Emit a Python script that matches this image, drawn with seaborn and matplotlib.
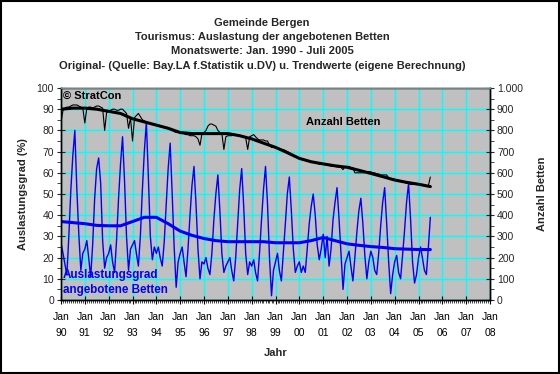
import pandas as pd
import matplotlib
matplotlib.use("Agg")
import matplotlib.pyplot as plt
import matplotlib.dates as mdates
from matplotlib.patches import Rectangle
from matplotlib.ticker import MultipleLocator, FuncFormatter
import seaborn as sns

# Monatswerte Jan. 1990 - Juli 2005
auslastung = [
    27, 22, 17, 12, 30, 52, 68, 80, 52, 31, 14, 22,   # 1990
    24, 28, 20, 11, 26, 48, 62, 67, 55, 28, 15, 20,   # 1991
    22, 26, 18, 13, 28, 48, 64, 77, 56, 30, 14, 24,   # 1992
    26, 28, 22, 16, 30, 52, 70, 84, 58, 30, 19, 25,   # 1993
    22, 25, 20, 16, 27, 45, 62, 74, 50, 25, 6, 18,    # 1994
    22, 25, 18, 11, 24, 40, 54, 63, 45, 24, 10, 18,   # 1995
    17, 20, 15, 12, 22, 38, 50, 59, 42, 22, 13, 16,   # 1996
    18, 20, 14, 9, 20, 36, 52, 62, 44, 22, 12, 18,    # 1997
    16, 19, 13, 9, 22, 38, 52, 63, 45, 20, 2, 14,     # 1998
    18, 22, 14, 9, 22, 36, 50, 58, 42, 24, 13, 16,    # 1999
    18, 13, 16, 13, 24, 36, 44, 50, 40, 26, 19, 24,   # 2000
    31, 20, 30, 16, 24, 38, 46, 53, 38, 22, 5, 17,    # 2001
    20, 23, 16, 9, 20, 32, 42, 48, 36, 21, 10, 18,    # 2002
    23, 20, 14, 12, 22, 35, 46, 53, 36, 18, 3, 12,    # 2003
    18, 21, 13, 10, 21, 33, 46, 55, 38, 18, 8, 12,    # 2004
    20, 25, 20, 14, 12, 25, 39,                       # 2005
]

betten = [
    840, 895, 905, 910, 910, 915, 920, 920, 920, 915, 910, 905,
    835, 905, 910, 910, 905, 910, 915, 915, 910, 905, 800, 885,
    890, 895, 900, 900, 895, 895, 900, 900, 890, 880, 810, 860,
    750, 860, 870, 880, 865, 850, 845, 840, 835, 830, 830, 825,
    825, 820, 820, 815, 815, 810, 810, 805, 800, 795, 790, 790,
    790, 785, 785, 780, 780, 775, 775, 775, 770, 760, 730, 785,
    790, 800, 820, 830, 830, 825, 820, 800, 790, 785, 710, 770,
    775, 775, 775, 780, 780, 775, 775, 770, 770, 765, 710, 770,
    775, 780, 770, 760, 755, 755, 755, 750, 750, 730, 720, 720,
    720, 715, 715, 710, 710, 705, 700, 695, 690, 685, 680, 675,
    670, 665, 660, 660, 655, 655, 650, 650, 645, 645, 640, 640,
    640, 638, 636, 634, 632, 630, 630, 628, 626, 625, 615, 630,
    630, 630, 625, 625, 600, 600, 600, 600, 600, 600, 605, 605,
    605, 600, 600, 595, 595, 590, 590, 590, 590, 575, 570, 570,
    570, 565, 565, 560, 555, 555, 550, 550, 545, 545, 545, 545,
    545, 545, 545, 540, 540, 540, 580,
]

# Trendwerte, jeweils Januar und Juli
trend_auslastung = [37, 36.5, 36, 35.2, 35, 35, 37, 39, 39, 36, 32.5, 30.5,
                    29, 28, 27.5, 27.5, 27.5, 27.5, 27, 27, 27, 28, 29.5, 28,
                    26.5, 25.8, 25.2, 24.8, 24.2, 24, 23.8, 23.8]
trend_betten = [900, 905, 905, 900, 890, 880, 855, 840, 825, 810, 790, 785,
                785, 785, 785, 775, 760, 740, 720, 695, 668, 652, 642, 633,
                626, 612, 597, 582, 566, 555, 546, 535]

titel = ["Gemeinde Bergen",
         "Tourismus: Auslastung der angebotenen Betten",
         "Monatswerte: Jan. 1990 - Juli 2005",
         "Original- (Quelle: Bay.LA f.Statistik u.DV) u. Trendwerte (eigene Berechnung)"]

monate = pd.date_range("1990-01-01", periods=len(auslastung), freq="MS")
df = pd.DataFrame({"Monat": monate, "Auslastung": auslastung, "Betten": betten})
trend_monate = pd.date_range("1990-01-01", periods=len(trend_auslastung), freq="6MS")
df_trend = pd.DataFrame({"Monat": trend_monate, "Auslastung": trend_auslastung,
                         "Betten": trend_betten})

sns.set_theme(style="white")
plt.rcParams["font.family"] = ["Liberation Sans", "DejaVu Sans"]

fig = plt.figure(figsize=(5.6, 3.74), dpi=100)
fig.patch.set_facecolor("white")
fig.patches.append(Rectangle((0.001, 0.002), 0.997, 0.996, transform=fig.transFigure,
                             fill=False, edgecolor="black", linewidth=1.5))

ax = fig.add_axes([61 / 560, 1 - 300 / 374, 429 / 560, 212 / 374])
ax.set_facecolor("#C0C0C0")
ax2 = ax.twinx()

sns.lineplot(data=df, x="Monat", y="Auslastung", ax=ax, color="#0000FF", linewidth=1)
sns.lineplot(data=df_trend, x="Monat", y="Auslastung", ax=ax, color="#0000FF", linewidth=2.2)
sns.lineplot(data=df, x="Monat", y="Betten", ax=ax2, color="black", linewidth=0.8)
sns.lineplot(data=df_trend, x="Monat", y="Betten", ax=ax2, color="black", linewidth=2.2)

ax.set_xlim(pd.Timestamp("1990-01-01"), pd.Timestamp("2008-01-01"))
ax.set_ylim(0, 100)
ax2.set_ylim(0, 1000)

ax.xaxis.set_major_locator(mdates.YearLocator())
ax.xaxis.set_major_formatter(mdates.DateFormatter("Jan\n%y"))
ax.xaxis.set_minor_locator(mdates.MonthLocator())
ax.yaxis.set_major_locator(MultipleLocator(10))
ax.yaxis.set_minor_locator(MultipleLocator(5))
ax2.yaxis.set_major_locator(MultipleLocator(100))
ax2.yaxis.set_minor_locator(MultipleLocator(50))
ax2.yaxis.set_major_formatter(FuncFormatter(lambda v, p: f"{int(v):,}".replace(",", ".")))

ax.grid(True, which="major", color="#00FFFF", linewidth=1)
ax.set_axisbelow(True)

ax.tick_params(axis="x", which="major", direction="inout", length=6, width=0.8,
               labelsize=7.5, colors="black", pad=6, bottom=True)
ax.tick_params(axis="x", which="minor", direction="out", length=2, width=0.6, bottom=True)
ax.tick_params(axis="y", which="major", direction="inout", length=6, width=0.8,
               labelsize=7.5, left=True, pad=2)
ax.tick_params(axis="y", which="minor", direction="out", length=3, width=0.6, left=True)
ax2.tick_params(axis="y", which="major", direction="inout", length=6, width=0.8,
                labelsize=7.5, right=True, pad=2)
ax2.tick_params(axis="y", which="minor", direction="out", length=3, width=0.6, right=True)
for lbl in ax.get_xticklabels():
    lbl.set_linespacing(1.75)

for a in (ax, ax2):
    for s in a.spines.values():
        s.set_color("black")
        s.set_linewidth(1)
ax2.spines["top"].set_color("#808080")

ax.set_xlabel("Jahr", fontsize=8, fontweight="bold", labelpad=7)
ax.set_ylabel("Auslastungsgrad (%)", fontsize=8, fontweight="bold", labelpad=6)
ax2.set_ylabel("Anzahl Betten", fontsize=8, fontweight="bold", labelpad=10)

ax.text(pd.Timestamp("1990-02-01"), 96.3, "© StratCon", fontsize=8, fontweight="bold",
        va="center", ha="left", color="black")
ax.text(pd.Timestamp("2001-11-01"), 84, "Anzahl Betten", fontsize=8, fontweight="bold",
        va="center", ha="center", color="black")
ax.text(pd.Timestamp("1990-02-01"), 8.2, "Auslastungsgrad\nangebotene Betten", fontsize=8.4,
        fontweight="bold", va="center", ha="left", color="#0000FF", linespacing=1.4)

for i, t in enumerate(titel):
    fig.text(262 / 560, 1 - (22.5 + 14.4 * i) / 374, t, fontsize=8, fontweight="bold",
             ha="center", va="center")

fig.savefig("out.png", dpi=100)
